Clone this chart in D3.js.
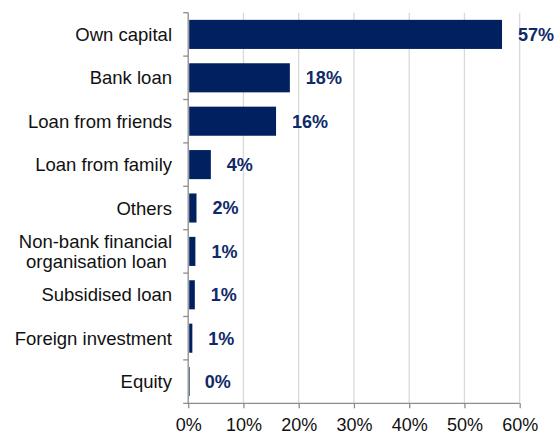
<!DOCTYPE html>
<html>
<head>
<meta charset="utf-8">
<script src="https://cdn.jsdelivr.net/npm/d3@7"></script>
<style>
  html, body { margin: 0; padding: 0; background: #fff; }
  svg { display: block; font-family: "Liberation Sans", Arial, sans-serif; }
</style>
</head>
<body>
<svg id="chart" width="556" height="433"></svg>
<script>
// Sources of start-up financing (share of respondents)
const categories = [
  "Own capital",
  "Bank loan",
  "Loan from friends",
  "Loan from family",
  "Others",
  "Non-bank financial\norganisation loan ",
  "Subsidised loan",
  "Foreign investment",
  "Equity"
];
const shares = [0.568, 0.184, 0.159, 0.041, 0.015, 0.013, 0.012, 0.0075, 0.001];
const tickValues = [0, 0.1, 0.2, 0.3, 0.4, 0.5, 0.6];

const svg = d3.select("#chart");
const plotLeft = 188.2, plotRight = 519.7, plotTop = 12.7, plotBottom = 403.3;

const x = d3.scaleLinear().domain([0, 0.6]).range([plotLeft, plotRight]);
const y = d3.scaleBand()
  .domain(categories)
  .range([plotTop, plotBottom])
  .paddingInner(0.33)
  .paddingOuter(0.165);

const pct = d3.format(".0%");
const axisColor = "#8c8c8c";

// vertical gridlines
svg.append("g")
  .selectAll("line")
  .data(tickValues.filter(d => d > 0))
  .join("line")
  .attr("x1", d => x(d)).attr("x2", d => x(d))
  .attr("y1", plotTop).attr("y2", plotBottom)
  .attr("stroke", "#d9d9d9")
  .attr("stroke-width", 1.3);

// bars
svg.append("g")
  .selectAll("rect")
  .data(categories)
  .join("rect")
  .attr("x", x(0) + 1)
  .attr("y", d => y(d))
  .attr("width", (d, i) => Math.max(0.6, x(shares[i]) - x(0) - 1))
  .attr("height", y.bandwidth())
  .attr("fill", "#00205f");

// value labels
svg.append("g")
  .selectAll("text")
  .data(categories)
  .join("text")
  .attr("x", (d, i) => x(shares[i]) + 16)
  .attr("y", d => y(d) + y.bandwidth() / 2)
  .attr("dy", "0.36em")
  .attr("font-size", 18)
  .attr("font-weight", "bold")
  .attr("fill", "#0f2a68")
  .text((d, i) => pct(shares[i]));

// x axis
const xAxis = d3.axisBottom(x)
  .tickValues(tickValues)
  .tickFormat(pct)
  .tickSize(5)
  .tickSizeOuter(0)
  .tickPadding(10);
const gx = svg.append("g")
  .attr("transform", `translate(0,${plotBottom})`)
  .call(xAxis);
gx.select(".domain").remove();
gx.append("line")
  .attr("x1", plotLeft - 5).attr("x2", plotRight)
  .attr("y1", 0).attr("y2", 0)
  .attr("stroke", axisColor).attr("stroke-width", 1.3);
gx.selectAll(".tick line").attr("stroke", axisColor).attr("stroke-width", 1.3);
gx.selectAll(".tick text")
  .attr("font-size", 18)
  .attr("font-family", "Liberation Sans, Arial, sans-serif")
  .attr("fill", "#111");

// y axis line with ticks between categories
const gy = svg.append("g");
gy.append("line")
  .attr("x1", plotLeft).attr("x2", plotLeft)
  .attr("y1", plotTop).attr("y2", plotBottom)
  .attr("stroke", axisColor).attr("stroke-width", 1.3);
const boundaries = categories.map(d => y(d) - y.step() * y.paddingInner() / 2);
gy.selectAll("line.tick")
  .data(boundaries)
  .join("line")
  .attr("class", "tick")
  .attr("x1", plotLeft - 5).attr("x2", plotLeft)
  .attr("y1", d => d).attr("y2", d => d)
  .attr("stroke", axisColor).attr("stroke-width", 1.3);

// category labels
const labels = gy.selectAll("text")
  .data(categories)
  .join("text")
  .attr("xml:space", "preserve")
  .attr("text-anchor", "end")
  .attr("font-size", 18.5)
  .attr("fill", "#111")
  .attr("transform", d => `translate(172,${y(d) + y.bandwidth() / 2})`);
labels.each(function(d) {
  const lines = d.split("\n");
  const t = d3.select(this);
  lines.forEach((ln, k) => {
    t.append("tspan")
      .attr("x", 0)
      .attr("y", (k - (lines.length - 1) / 2) * 20)
      .attr("dy", "0.36em")
      .text(ln);
  });
});
</script>
</body>
</html>
